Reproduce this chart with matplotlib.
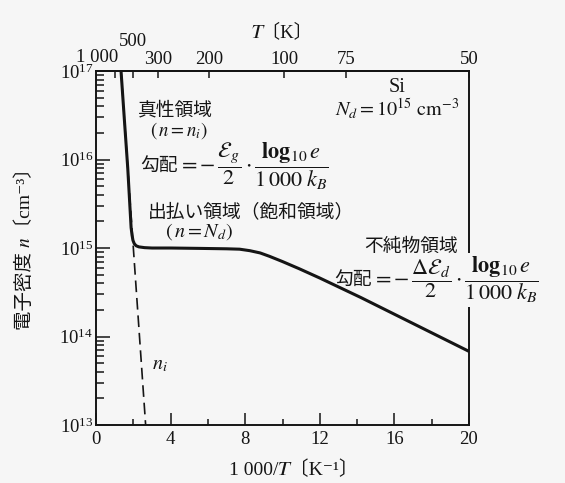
import matplotlib
matplotlib.use("Agg")
from matplotlib import pyplot as plt
from matplotlib.ticker import LogLocator, NullFormatter, LogFormatterMathtext

# electron density n vs 1000/T (solid curve)
inv_t = [1.34, 1.52, 1.70, 1.88, 1.93, 1.98, 2.05, 2.15, 2.30, 2.60, 3.0, 4.0,
         5.6, 7.0, 7.7, 8.25, 8.8, 9.3, 10.0, 10.9, 12.0, 14.2, 20.0]
n_e = [1e17, 2.8e16, 8e15, 1.7e15, 1.4e15, 1.22e15, 1.12e15, 1.06e15, 1.03e15,
       1.01e15, 1.0e15, 1.0e15, 9.9e14, 9.8e14, 9.7e14, 9.33e14, 8.8e14, 8.06e14,
       7.03e14, 5.83e14, 4.58e14, 2.76e14, 6.8e13]

# intrinsic density n_i (dashed)
inv_t_ni = [1.34, 2.66]
n_i = [1e17, 1e13]

# top axis: temperature in K
t_labels = ["1 000", "500", "300", "200", "100", "75", "50"]
t_pos = [1.0, 2.0, 3.33, 6.05, 10.1, 13.4, 20.0]

BG = "#f6f6f6"
INK = "#151515"
FS = 13.5
FS_MATH = 14.5
FS_FRAC = 16

plt.rcParams["font.family"] = ["Liberation Serif", "STIXGeneral", "DejaVu Serif",
                               "Noto Sans CJK JP"]
plt.rcParams["mathtext.fontset"] = "stix"
plt.rcParams["text.color"] = INK
plt.rcParams["xtick.color"] = INK
plt.rcParams["ytick.color"] = INK

fig = plt.figure(figsize=(5.65, 4.83), dpi=100, facecolor=BG)
ax = fig.add_axes([0.170, 0.120, 0.660, 0.733], facecolor=BG)

# lines sit above the text boxes (the box only hides the right spine)
ax.plot(inv_t_ni, n_i, color=INK, lw=1.2, dashes=(7, 3.5), zorder=6)
ax.plot(inv_t, n_e, color=INK, lw=2.2, solid_joinstyle="round", zorder=6)

ax.set_yscale("log")
ax.set_xlim(0, 20)
ax.set_ylim(1e13, 1e17)
ax.set_xticks([0, 4, 8, 12, 16, 20])
ax.set_xticks([2, 6, 10, 14, 18], minor=True)
ax.yaxis.set_major_locator(LogLocator(base=10, numticks=10))
ax.yaxis.set_major_formatter(LogFormatterMathtext())
ax.yaxis.set_minor_locator(LogLocator(base=10, subs=range(2, 10), numticks=10))
ax.yaxis.set_minor_formatter(NullFormatter())

for s in ax.spines.values():
    s.set_linewidth(1.4)
    s.set_color(INK)

ax.tick_params(axis="x", which="major", direction="in", length=8.5, width=1.1,
               labelsize=FS, pad=4)
ax.tick_params(axis="x", which="minor", direction="in", length=4.3, width=1.1)
ax.tick_params(axis="y", which="major", direction="in", length=10, width=1.1,
               labelsize=FS, pad=2)
ax.tick_params(axis="y", which="minor", direction="in", length=5.8, width=1.1)

# top temperature axis
top = ax.secondary_xaxis("top")
top.set_xticks(t_pos, ["", ""] + t_labels[2:])
top.tick_params(direction="in", length=5, width=1.1, labelsize=FS, pad=2)
top.spines["top"].set_linewidth(1.4)
ax.text(0.05, 1.013, t_labels[0], transform=ax.get_xaxis_transform(),
        ha="center", va="bottom", fontsize=FS)
ax.text(2.0, 1.06, t_labels[1], transform=ax.get_xaxis_transform(),
        ha="center", va="bottom", fontsize=FS)
fig.text(0.50, 0.934, "\U0001D447〔K〕", ha="center", va="center", fontsize=FS)

# axis labels
fig.text(0.52, 0.027, "1 000/\U0001D447〔K⁻¹〕", ha="center", va="center", fontsize=14)
fig.text(0.044, 0.495, "電子密度 \U0001D45B〔cm⁻³〕", ha="center", va="center",
         rotation=90, fontsize=14)

# annotations
ax.text(2.25, 3.53e16, "真性領域", ha="left", va="center", fontsize=FS)
ax.text(2.9, 2.1e16, r"$(\,n = n_i)$", ha="left", va="center", fontsize=FS)
ax.text(4.39, 8.45e15, "勾配", ha="right", va="center", fontsize=FS)
ax.text(4.39, 8.45e15,
        r"$=-\,\dfrac{\mathcal{E}_g}{2}\cdot\dfrac{\mathbf{log}_{10}\,e}{1\,000\;k_B}$",
        ha="left", va="center", fontsize=FS_FRAC)
ax.text(2.79, 2.55e15, "出払い領域（飽和領域）", ha="left", va="center", fontsize=FS)
ax.text(3.7, 1.52e15, r"$(\,n = N_d)$", ha="left", va="center", fontsize=FS_MATH)

ax.text(16.14, 6.5e16, "Si", ha="center", va="center", fontsize=FS_MATH)
ax.text(12.8, 3.8e16, r"$N_d = 10^{15}\ \mathrm{cm}^{-3}$", ha="left", va="center",
        fontsize=FS_MATH)

ax.text(14.4, 1.03e15, "不純物領域", ha="left", va="center", fontsize=FS)
ax.text(14.8, 4.35e14, "勾配", ha="right", va="center", fontsize=FS)
ax.text(14.8, 4.35e14,
        r"$=-\,\dfrac{\Delta\mathcal{E}_d}{2}\cdot\dfrac{\mathbf{log}_{10}\,e}{1\,000\;k_B}$",
        ha="left", va="center", fontsize=FS_FRAC, clip_on=False, zorder=5,
        bbox=dict(facecolor=BG, edgecolor="none", pad=1))

ax.text(3.0, 4.77e13, r"$n_i$", ha="left", va="center", fontsize=FS_MATH)

fig.savefig("out.png", dpi=100, facecolor=BG)
